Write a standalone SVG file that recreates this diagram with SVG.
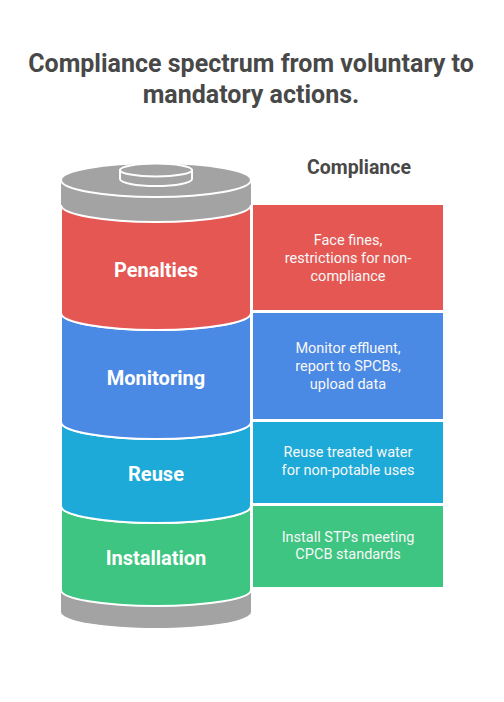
<svg xmlns="http://www.w3.org/2000/svg" width="504" height="702" viewBox="0 0 504 702">
<style>
.title{font-family:Roboto,"Liberation Sans",sans-serif;font-weight:700;font-size:25px;fill:#484848;text-anchor:middle}
.head{font-family:Roboto,"Liberation Sans",sans-serif;font-weight:700;font-size:19.5px;fill:#484848;text-anchor:middle}
.lbl{font-family:Roboto,"Liberation Sans",sans-serif;font-weight:700;font-size:20px;fill:#ffffff;text-anchor:middle}
.desc{font-family:Roboto,"Liberation Sans",sans-serif;font-size:14.5px;fill:#f7f7f7;text-anchor:middle}
.band{stroke:#ffffff;stroke-width:2}
.grey{fill:#a3a3a3}
.red{fill:#e55753}
.blue{fill:#4a89e4}
.cyan{fill:#1daad8}
.green{fill:#3dc581}
</style>
<rect width="504" height="702" fill="#ffffff"/>
<g id="title">
<text class="title" x="251" y="72">Compliance spectrum from voluntary to</text>
<text class="title" x="251" y="103">mandatory actions.</text>
</g>
<g id="header"><text class="head" x="359" y="174">Compliance</text></g>
<g id="cylinder-base">
<path class="grey" d="M61,590 L61,612 A95,16 0 0 0 251,612 L251,590 Z"/>
</g>
<g id="cylinder-top">
<path class="grey" d="M61,180 L61,205 A95,17 0 0 0 251,205 L251,180 Z"/>
<ellipse class="grey band" cx="156" cy="180" rx="95" ry="17"/>
<path class="grey band" d="M120,170 L120,179 A36,7 0 0 0 192,179 L192,170 Z"/>
<ellipse class="grey band" cx="156" cy="170" rx="36" ry="6.5"/>
</g>
<g id="installation">
<path class="green band" d="M61,506 A95,17 0 0 0 251,506 L251,590 A95,16 0 0 1 61,590 Z"/>
<text class="lbl" x="156" y="565">Installation</text>
<rect class="green" x="253" y="506" width="190" height="81"/>
<text class="desc" x="348" y="542">Install STPs meeting</text>
<text class="desc" x="348" y="559">CPCB standards</text>
</g>
<g id="reuse">
<path class="cyan band" d="M61,422 A95,17 0 0 0 251,422 L251,506 A95,17 0 0 1 61,506 Z"/>
<text class="lbl" x="156" y="481">Reuse</text>
<rect class="cyan" x="253" y="422" width="190" height="81"/>
<text class="desc" x="348" y="457">Reuse treated water</text>
<text class="desc" x="348" y="475">for non-potable uses</text>
</g>
<g id="monitoring">
<path class="blue band" d="M61,313 A95,17 0 0 0 251,313 L251,422 A95,17 0 0 1 61,422 Z"/>
<text class="lbl" x="156" y="385">Monitoring</text>
<rect class="blue" x="253" y="313" width="190" height="106"/>
<text class="desc" x="348" y="353">Monitor effluent,</text>
<text class="desc" x="348" y="371">report to SPCBs,</text>
<text class="desc" x="348" y="389">upload data</text>
</g>
<g id="penalties">
<path class="red band" d="M61,205 A95,17 0 0 0 251,205 L251,313 A95,17 0 0 1 61,313 Z"/>
<text class="lbl" x="156" y="277">Penalties</text>
<rect class="red" x="253" y="205" width="190" height="105"/>
<text class="desc" x="348" y="245">Face fines,</text>
<text class="desc" x="348" y="263">restrictions for non-</text>
<text class="desc" x="348" y="281">compliance</text>
</g>
<g id="connectors"></g>
</svg>
